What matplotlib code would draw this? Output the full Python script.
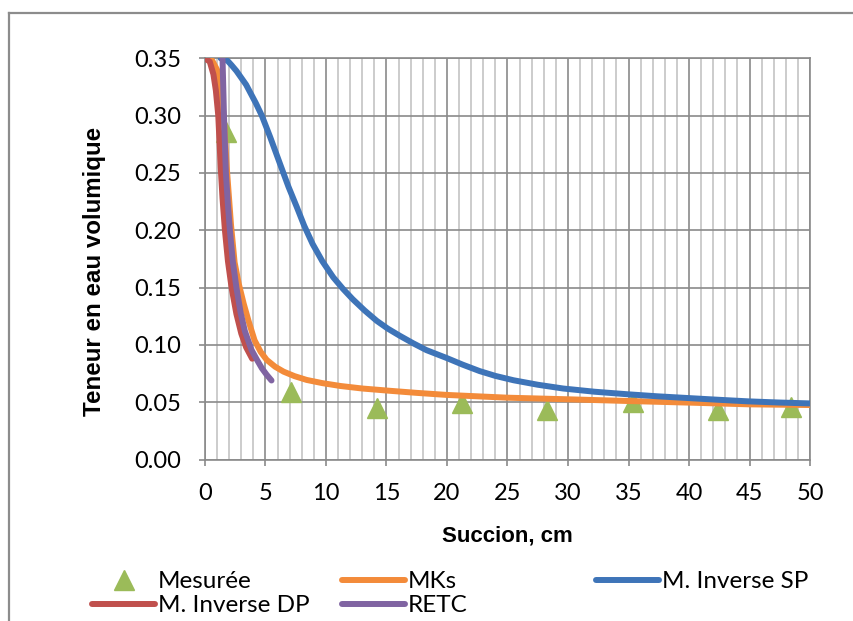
import matplotlib
matplotlib.use("Agg")
import matplotlib.pyplot as plt
from matplotlib.ticker import MultipleLocator, FormatStrFormatter
from matplotlib.lines import Line2D

# Measured water content
succion_mes = [1.7, 7.1, 14.2, 21.2, 28.3, 35.4, 42.4, 48.4]
teneur_mes = [0.286, 0.059, 0.045, 0.049, 0.043, 0.050, 0.043, 0.046]

# MKs model
succion_mks = [0, 0.6, 1.0, 1.3, 1.55, 1.8, 2.15, 2.45, 2.8, 3.2, 3.6, 4.1,
               4.6, 5.1, 5.8, 6.5, 7.4, 8.4, 9.7, 11.2, 13.0, 15.3, 17.5,
               20.0, 25.0, 30.0, 35.0, 40.0, 45.0, 50.0]
teneur_mks = [0.350, 0.348, 0.340, 0.322, 0.300, 0.255, 0.205, 0.172, 0.153,
              0.136, 0.121, 0.104, 0.094, 0.087, 0.081, 0.0767, 0.0728,
              0.0695, 0.0667, 0.0642, 0.0620, 0.0600, 0.0582, 0.0564, 0.054,
              0.0526, 0.0511, 0.0497, 0.0482, 0.0476]

# Inverse method, single porosity
succion_sp = [1.3, 1.6, 1.9, 2.2, 2.6, 3.0, 3.4, 3.7, 4.2, 4.7, 5.4, 6.2, 6.9,
              7.6, 8.2, 8.9, 9.7, 10.6, 11.4, 12.2, 13.2, 14.2, 15.1, 16.1,
              17.2, 18.3, 20.0, 21.3, 22.7, 24.0, 25.5, 27.5, 29.6, 32.2,
              34.9, 37.4, 39.9, 42.4, 44.9, 47.4, 50.0]
teneur_sp = [0.350, 0.3495, 0.3475, 0.344, 0.339, 0.333, 0.327, 0.321, 0.311,
             0.300, 0.281, 0.258, 0.238, 0.220, 0.204, 0.188, 0.173, 0.159,
             0.149, 0.140, 0.130, 0.121, 0.1143, 0.108, 0.1015, 0.0955,
             0.0885, 0.0828, 0.0772, 0.0730, 0.0692, 0.0653, 0.0620, 0.0592,
             0.0570, 0.0552, 0.0537, 0.0522, 0.0508, 0.0498, 0.049]

# Inverse method, dual porosity
succion_dp = [0, 0.4, 0.7, 0.9, 1.1, 1.3, 1.45, 1.65, 1.9, 2.2, 2.6, 3.0, 3.4, 3.9]
teneur_dp = [0.350, 0.347, 0.336, 0.322, 0.300, 0.255, 0.228, 0.200, 0.173,
             0.150, 0.127, 0.110, 0.098, 0.088]

# RETC fit
succion_retc = [1.45, 1.5, 1.57, 1.65, 1.73, 1.9, 2.06, 2.3, 2.6, 2.95, 3.3,
                3.85, 4.3, 4.7, 5.1, 5.5]
teneur_retc = [0.350, 0.330, 0.300, 0.275, 0.250, 0.222, 0.200, 0.173, 0.150,
               0.128, 0.112, 0.0956, 0.087, 0.0797, 0.074, 0.069]

x_ticks = list(range(0, 51, 5))
y_ticks = [0.00, 0.05, 0.10, 0.15, 0.20, 0.25, 0.30, 0.35]

GREEN = "#9BBB59"
ORANGE = "#F38B3A"
BLUE = "#3E74B8"
RED = "#C0504D"
PURPLE = "#8064A2"
GRID_MAJOR = "#8A8A8A"
GRID_MINOR = "#C4C4C4"

TICK_FONT = "Lato"
LABEL_FONT = "Liberation Sans"

fig = plt.figure(figsize=(8.54, 6.21), dpi=100)
ax = fig.add_axes([0.2400, 0.2599, 0.7085, 0.6462])

lw = 4.3
h_mes, = ax.plot(succion_mes, teneur_mes, linestyle="none", marker="^",
                 markersize=14, color=GREEN, zorder=3, label="Mesurée")
h_mks, = ax.plot(succion_mks, teneur_mks, color=ORANGE, lw=lw, zorder=4,
                 solid_capstyle="round", solid_joinstyle="round", label="MKs")
h_sp, = ax.plot(succion_sp, teneur_sp, color=BLUE, lw=lw, zorder=5,
                solid_capstyle="round", solid_joinstyle="round",
                label="M. Inverse SP")
h_dp, = ax.plot(succion_dp, teneur_dp, color=RED, lw=lw, zorder=6,
                solid_capstyle="round", solid_joinstyle="round",
                label="M. Inverse DP")
h_retc, = ax.plot(succion_retc, teneur_retc, color=PURPLE, lw=lw, zorder=7,
                  solid_capstyle="round", solid_joinstyle="round",
                  label="RETC")

ax.set_xlim(0, 50)
ax.set_ylim(0, 0.35)
ax.set_xticks(x_ticks)
ax.set_yticks(y_ticks)
ax.xaxis.set_minor_locator(MultipleLocator(1))
ax.yaxis.set_major_formatter(FormatStrFormatter("%.2f"))

ax.set_axisbelow(True)
ax.grid(which="minor", axis="x", color=GRID_MINOR, lw=1.2)
ax.grid(which="major", axis="both", color=GRID_MAJOR, lw=1.2)

ax.tick_params(which="major", direction="out", length=4, width=1.2,
               color=GRID_MAJOR, pad=13, labelsize=17)
ax.tick_params(which="minor", length=0)
for lab in ax.get_xticklabels() + ax.get_yticklabels():
    lab.set_fontfamily(TICK_FONT)
for sp in ax.spines.values():
    sp.set_color(GRID_MAJOR)
    sp.set_linewidth(1.2)

ax.set_xlabel("Succion, cm", fontsize=16, fontweight="bold",
              family=LABEL_FONT)
ax.set_ylabel("Teneur en eau volumique", fontsize=17.4, fontweight="bold",
              family=LABEL_FONT)
ax.xaxis.set_label_coords(0.5, -0.165)
ax.yaxis.set_label_coords(-0.163, 0.47)

# Legend laid out in three columns below the plot
leg_kw = dict(frameon=False, borderpad=0, handlelength=2.6, handletextpad=0.1,
              labelspacing=0.12, prop={"family": TICK_FONT, "size": 17.5},
              loc="upper left", bbox_transform=fig.transFigure)
cols = [([h_mes, h_dp], 80 / 854),
        ([h_mks, h_retc], 330 / 854),
        ([h_sp], 584 / 854)]
for handles, x0 in cols:
    fig.legend(handles=handles, labels=[h.get_label() for h in handles],
               bbox_to_anchor=(x0, 1 - 559 / 621), **leg_kw)

# Outer chart border
border = dict(transform=fig.transFigure, color="#8C8C8C", lw=1.6)
fig.add_artist(Line2D([9 / 854, 9 / 854], [0, 1 - 13 / 621], **border))
fig.add_artist(Line2D([9 / 854, 1], [1 - 13 / 621, 1 - 13 / 621], **border))

fig.savefig("out.png", dpi=100)
